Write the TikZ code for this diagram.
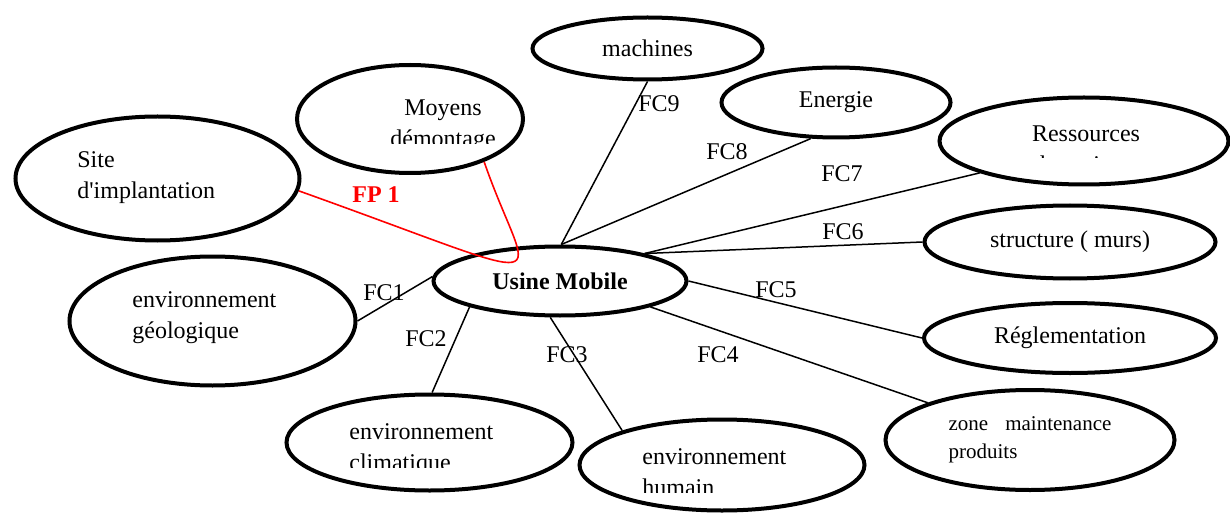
\documentclass[tikz,border=0pt]{standalone}
\usepackage{fontspec}
\setmainfont{Liberation Serif}[Ligatures=TeXOff]
\usetikzlibrary{shapes.geometric}

\begin{document}
\begin{tikzpicture}[
    x=0.5pt, y=-0.5pt,
    blob/.style 2 args={ellipse, draw, line width=2pt, inner sep=0pt, minimum width=#1pt, minimum height=#2pt, font=\fontsize{12pt}{15.5pt}\selectfont},
    txt/.style={inner sep=0pt, align=left, font=\fontsize{12pt}{15.5pt}\selectfont},
    link/.style={line width=0.75pt},
    tag/.style={inner sep=0pt, font=\fontsize{12pt}{14pt}\selectfont}
]
    \useasboundingbox (0,0) rectangle (1230,513);

    \node[blob={142}{62}] (site) at (157.5,178.5) {};
    \node[txt, anchor=west] (siteT) at (77,177.5) {Site\\d'implantation};

    \node[blob={113}{54}] (moyens) at (410,119) {};
    \begin{scope}
        \clip (290,60) rectangle (530,144);
        \node[txt, align=center] (moyensT) at (443,126) {Moyens\\démontage};
    \end{scope}

    \node[blob={115}{31}] (mach) at (647.5,48.5) {machines};
    \node[blob={114.5}{35}] (ener) at (836,102.5) {Energie};

    \node[blob={144.5}{43.5}] (ress) at (1084,141) {};
    \begin{scope}
        \clip (930,90) rectangle (1240,158);
        \node[txt, align=center] (ressT) at (1086,149.5) {Ressources\\humaines};
    \end{scope}

    \node[blob={145.5}{36.5}] (struc) at (1070,242) {structure ( murs)};
    \node[blob={146}{35}] (regl) at (1070,338) {Réglementation};
    \node[blob={144.5}{50}, align=left, font=\fontsize{10.5pt}{14pt}\selectfont] (zone) at (1030,440) {zone\hspace{8.5pt}maintenance\\produits};

    \node[blob={142.5}{45.5}] (hum) at (722,465) {};
    \begin{scope}
        \clip (570,410) rectangle (880,492);
        \node[txt, anchor=west] (humT) at (642,472.5) {environnement\\humain};
    \end{scope}

    \node[blob={143}{48}] (clim) at (429.5,442.5) {};
    \begin{scope}
        \clip (280,385) rectangle (580,467);
        \node[txt, anchor=west] (climT) at (349,450) {environnement\\climatique};
    \end{scope}

    \node[blob={143}{64.5}] (geo) at (212.5,321) {};
    \node[txt, anchor=west] (geoT) at (132,318) {environnement\\géologique};

    \node[blob={126.5}{34.5}, font=\bfseries\fontsize{12pt}{14pt}\selectfont] (usine) at (560,281) {Usine Mobile};

    \draw[link] (usine.178) -- (geo.east);
    \draw[link] (usine.-164) -- (clim.87);
    \draw[link] (usine.-105) -- (hum.161);
    \draw[link] (usine.-16) -- (zone.160);
    \draw[link] (usine.east) -- (regl.west);
    \draw[link] (usine.18) -- (struc.west);
    \draw[link] (usine.18) -- (ress.-163);
    \draw[link] (usine.88) -- (ener.-125);
    \draw[link] (usine.88) -- (mach.south);
    \draw[red, line width=0.8pt] (site.-5) .. controls +(277,99) and +(45,130) .. (moyens.-30);

    \node[tag] (fc1) at (384,293) {FC1};
    \node[tag] (fc2) at (426,339) {FC2};
    \node[tag] (fc3) at (567,355) {FC3};
    \node[tag] (fc4) at (718,355) {FC4};
    \node[tag] (fc5) at (776,290) {FC5};
    \node[tag] (fc6) at (843,232) {FC6};
    \node[tag] (fc7) at (842,174) {FC7};
    \node[tag] (fc8) at (727,152) {FC8};
    \node[tag] (fc9) at (659,104) {FC9};
    \node[tag, text=red, font=\bfseries\fontsize{12pt}{14pt}\selectfont] (fp1) at (376,195) {FP 1};
\end{tikzpicture}
\end{document}
